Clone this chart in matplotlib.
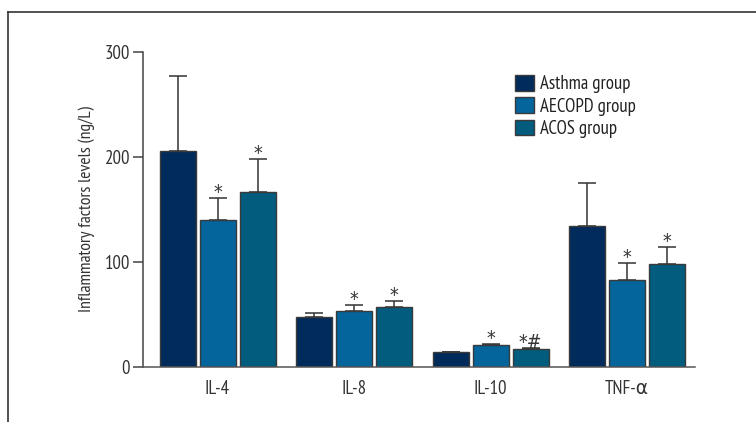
import matplotlib
matplotlib.use("Agg")
import matplotlib.pyplot as plt
from matplotlib.lines import Line2D
import numpy as np

plt.rcParams['font.family'] = ['PT Sans Narrow', 'DejaVu Sans']

categories = ["IL-4", "IL-8", "IL-10", "TNF-\u03b1"]
groups = ["Asthma group", "AECOPD group", "ACOS group"]
asthma = [206, 48, 14, 134]
aecopd = [140, 53, 21, 83]
acos = [167, 57, 17.5, 98]
asthma_err = [71, 3, 0.6, 41]
aecopd_err = [21, 6, 1.2, 16]
acos_err = [31, 6, 0.9, 16]
asthma_marks = ["", "", "", ""]
aecopd_marks = ["*", "*", "*", "*"]
acos_marks = ["*", "*", "*#", "*"]
yticks = [0, 100, 200, 300]

colors = ["#012b5b", "#03659c", "#015c7e"]
edge = "#3a3a3a"

fig = plt.figure(figsize=(7.56, 4.22), dpi=100)
ax = fig.add_axes([143/756, 55/422, 552/756, 315/422])

x = np.arange(len(categories))
offset = 40/136.5
width = 36/136.5
series = [(asthma, asthma_err, asthma_marks), (aecopd, aecopd_err, aecopd_marks), (acos, acos_err, acos_marks)]
for i, (vals, errs, marks) in enumerate(series):
    pos = x + (i - 1) * offset
    ax.bar(pos, vals, width=width, color=colors[i], edgecolor=edge, linewidth=1.0,
           label=groups[i], zorder=2)
    ax.errorbar(pos, vals, yerr=[np.zeros(len(vals)), errs], fmt='none',
                ecolor="#333333", elinewidth=1.1, capsize=6.5, capthick=1.1, zorder=1)
    for p, v, e, m in zip(pos, vals, errs, marks):
        if m:
            ax.annotate(m, (p, v + e), xytext=(0, -3), textcoords='offset points',
                        ha='center', va='bottom', fontsize=14, color="#333333",
                        family='DejaVu Sans', fontstretch='condensed')

ax.set_xlim(-0.546, 3.498)
ax.set_ylim(0, 300)
ax.set_yticks(yticks)
ax.set_xticks(x)
ax.set_xticklabels(categories)
ax.tick_params(axis='x', length=0, pad=9, labelsize=13.5, colors="#333333")
ax.tick_params(axis='y', length=7.2, width=1.1, pad=2, labelsize=13.5, colors="#333333", color="#444444")
for s in ["top", "right"]:
    ax.spines[s].set_visible(False)
ax.spines["left"].set_color("#444444")
ax.spines["left"].set_linewidth(1.1)
ax.spines["bottom"].set_color("#555555")
ax.spines["bottom"].set_linewidth(1.1)
ax.set_ylabel("Inflammatory factors levels (ng/L)", fontsize=12.7, color="#333333", labelpad=7)

leg = ax.legend(loc='upper left', bbox_to_anchor=(515/756, 1 - 75/422), bbox_transform=fig.transFigure,
                frameon=False, fontsize=13.5, borderpad=0, borderaxespad=0,
                handlelength=1.0, handleheight=0.9, handletextpad=0.35, labelspacing=0.22)
for t in leg.get_texts():
    t.set_color("#222222")

fig.add_artist(Line2D([8/756, 1], [1 - 12/422, 1 - 12/422], transform=fig.transFigure, color="#333333", lw=1.2))
fig.add_artist(Line2D([8/756, 8/756], [0, 1 - 12/422], transform=fig.transFigure, color="#333333", lw=1.2))

fig.savefig("out.png", dpi=100)
